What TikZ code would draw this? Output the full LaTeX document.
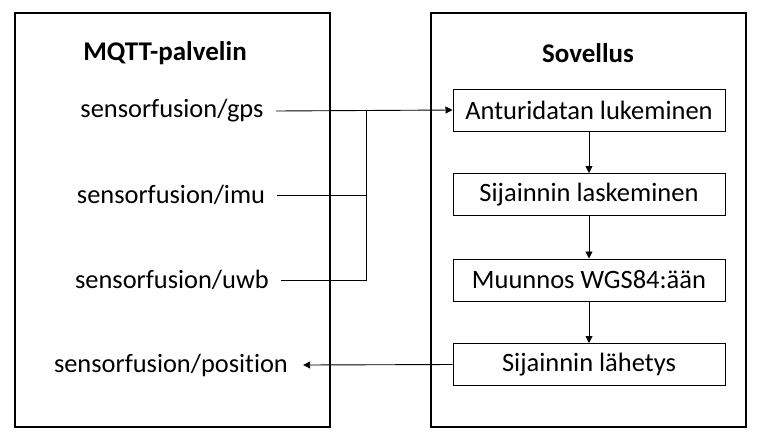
\documentclass[tikz,border=0pt]{standalone}
\usepackage{fontspec}
\setmainfont{Carlito}[Ligatures=NoCommon]
\usetikzlibrary{arrows.meta}
\begin{document}
\begin{tikzpicture}[x=1pt,y=-1pt,
  bigbox/.style={draw,line width=2pt,minimum width=315pt,minimum height=414pt,inner sep=0pt},
  stepbox/.style={draw,line width=1pt,minimum width=272pt,minimum height=42pt,inner sep=0pt,font=\fontsize{26.5}{30}\selectfont},
  topic/.style={inner xsep=12pt,inner ysep=2pt,font=\fontsize{26.4}{30}\selectfont},
  title/.style={font=\bfseries\fontsize{27}{30}\selectfont},
  conn/.style={line width=0.9pt},
  arr/.style={conn,-{Triangle[length=7pt,width=7pt]}}]
\useasboundingbox (0,0) rectangle (760,440);
\node[bigbox] (srv) at (172.5,220) {};
\node[bigbox] (app) at (588.5,220) {};
\node[title] (srvt) at (165,53) {MQTT-palvelin};
\node[title] (appt) at (588,53) {Sovellus};
\node[topic] (gps) at (172,111) {sensorfusion/gps};
\node[topic] (imu) at (171,195) {sensorfusion/imu};
\node[topic] (uwb) at (172,280) {sensorfusion/uwb};
\node[topic,inner xsep=15pt] (pos) at (171,365) {sensorfusion/position};
\node[stepbox] (s1) at (589,110) {Anturidatan lukeminen};
\node[stepbox] (s2) at (589,194.5) {Sijainnin laskeminen};
\node[stepbox] (s3) at (589,280) {Muunnos WGS84:ään};
\node[stepbox] (s4) at (589,364.5) {Sijainnin lähetys};
\coordinate (j) at (366,111);
\draw[arr] (gps.east) -- (s1.west);
\draw[conn] (imu.east) -| (j);
\draw[conn] (uwb.east) -| (j);
\draw[arr] (s1) -- (s2);
\draw[arr] (s2) -- (s3);
\draw[arr] (s3) -- (s4);
\draw[arr] (s4.west) -- (pos.east);
\end{tikzpicture}
\end{document}
